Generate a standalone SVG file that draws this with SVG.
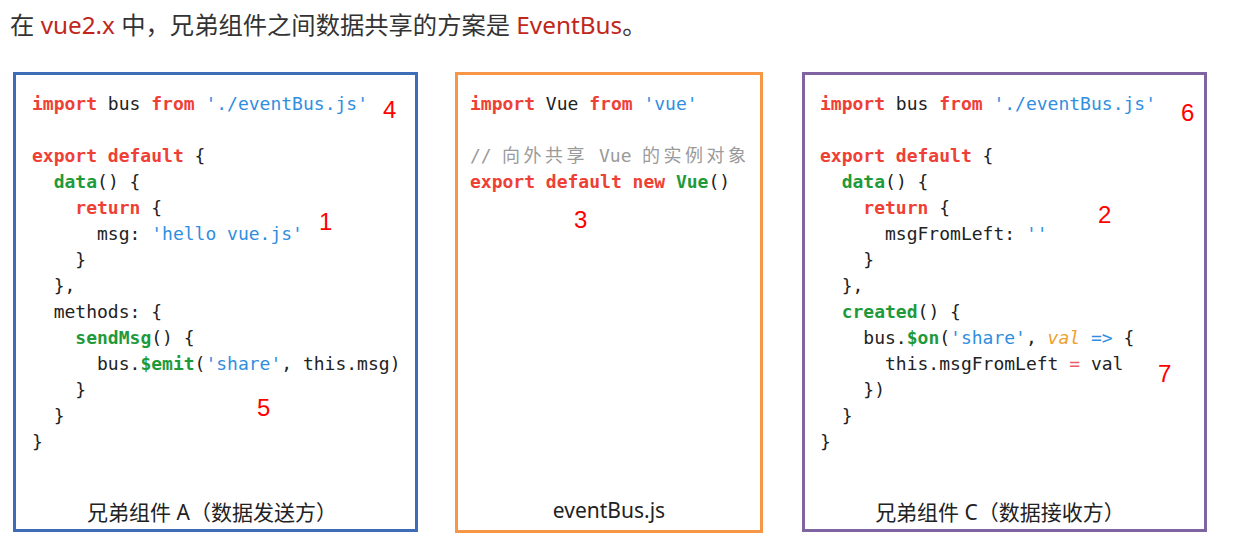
<svg xmlns="http://www.w3.org/2000/svg" width="1256" height="544" viewBox="0 0 1256 544">
<style>
.code{font-family:"DejaVu Sans Mono","Liberation Mono","Noto Sans CJK SC",monospace;font-size:18px;fill:#222}
.k{fill:#ee4035;font-weight:bold}
.op{fill:#ee5a6a}
.s{fill:#2f8ee0}
.f{fill:#1f9a3a;font-weight:bold}
.o{fill:#f0a030;font-style:italic}
.c{fill:#9a9a9a}
.cap{font-family:"Noto Sans","Noto Sans CJK SC",sans-serif;font-size:21px;fill:#222;text-anchor:middle}
.num{font-family:"Liberation Sans",Arial,sans-serif;font-size:24px;fill:#ff0000}
.title{font-family:"Noto Sans","Noto Sans CJK SC",sans-serif;font-size:24.3px;fill:#333}
.r{fill:#c0261c}
.box{fill:#fff;stroke-width:3}
</style>
<rect width="1256" height="544" fill="#fff"/>
<text class="title" x="10" y="34" xml:space="preserve">在 <tspan class="r">vue2.x</tspan> 中，兄弟组件之间数据共享的方案是 <tspan class="r">EventBus</tspan>。</text>
<g id="nodeA">
<rect class="box" x="14.5" y="73.5" width="402" height="457" stroke="#3d6db6"/>
<text class="code" x="32" y="110" xml:space="preserve"><tspan class="k">import</tspan> bus <tspan class="k">from</tspan> <tspan class="s">'./eventBus.js'</tspan></text>
<text class="code" x="32" y="162" xml:space="preserve"><tspan class="k">export default</tspan> {</text>
<text class="code" x="32" y="188" xml:space="preserve">  <tspan class="f">data</tspan>() {</text>
<text class="code" x="32" y="214" xml:space="preserve">    <tspan class="k">return</tspan> {</text>
<text class="code" x="32" y="240" xml:space="preserve">      msg: <tspan class="s">'hello vue.js'</tspan></text>
<text class="code" x="32" y="266" xml:space="preserve">    }</text>
<text class="code" x="32" y="292" xml:space="preserve">  },</text>
<text class="code" x="32" y="318" xml:space="preserve">  methods: {</text>
<text class="code" x="32" y="344" xml:space="preserve">    <tspan class="f">sendMsg</tspan>() {</text>
<text class="code" x="32" y="370" xml:space="preserve">      bus.<tspan class="f">$emit</tspan>(<tspan class="s">'share'</tspan>, this.msg)</text>
<text class="code" x="32" y="396" xml:space="preserve">    }</text>
<text class="code" x="32" y="422" xml:space="preserve">  }</text>
<text class="code" x="32" y="448" xml:space="preserve">}</text>
<text class="cap" x="212" y="520">兄弟组件 A（数据发送方）</text>
</g>
<g id="nodeBus">
<rect class="box" x="456.5" y="73.5" width="305" height="458" stroke="#f79646"/>
<text class="code" x="470" y="110" xml:space="preserve"><tspan class="k">import</tspan> Vue <tspan class="k">from</tspan> <tspan class="s">'vue'</tspan></text>
<text class="code c" y="162"><tspan x="470">//</tspan><tspan x="502" letter-spacing="3.5">向外共享</tspan><tspan x="599">Vue</tspan><tspan x="642" letter-spacing="3.5">的实例对象</tspan></text>
<text class="code" x="470" y="188" xml:space="preserve"><tspan class="k">export default new</tspan> <tspan class="f">Vue</tspan>()</text>
<text class="cap" x="609" y="518">eventBus.js</text>
</g>
<g id="nodeC">
<rect class="box" x="803.5" y="73.5" width="402" height="457" stroke="#8064a2"/>
<text class="code" x="820" y="110" xml:space="preserve"><tspan class="k">import</tspan> bus <tspan class="k">from</tspan> <tspan class="s">'./eventBus.js'</tspan></text>
<text class="code" x="820" y="162" xml:space="preserve"><tspan class="k">export default</tspan> {</text>
<text class="code" x="820" y="188" xml:space="preserve">  <tspan class="f">data</tspan>() {</text>
<text class="code" x="820" y="214" xml:space="preserve">    <tspan class="k">return</tspan> {</text>
<text class="code" x="820" y="240" xml:space="preserve">      msgFromLeft: <tspan class="s">''</tspan></text>
<text class="code" x="820" y="266" xml:space="preserve">    }</text>
<text class="code" x="820" y="292" xml:space="preserve">  },</text>
<text class="code" x="820" y="318" xml:space="preserve">  <tspan class="f">created</tspan>() {</text>
<text class="code" x="820" y="344" xml:space="preserve">    bus.<tspan class="f">$on</tspan>(<tspan class="s">'share'</tspan>, <tspan class="o">val</tspan> <tspan class="s">=&gt;</tspan> {</text>
<text class="code" x="820" y="370" xml:space="preserve">      this.msgFromLeft <tspan class="op">=</tspan> val</text>
<text class="code" x="820" y="396" xml:space="preserve">    })</text>
<text class="code" x="820" y="422" xml:space="preserve">  }</text>
<text class="code" x="820" y="448" xml:space="preserve">}</text>
<text class="cap" x="1000" y="520">兄弟组件 C（数据接收方）</text>
</g>
<g id="labels">
<text class="num" x="383" y="118">4</text>
<text class="num" x="319" y="230">1</text>
<text class="num" x="257" y="416">5</text>
<text class="num" x="574" y="228">3</text>
<text class="num" x="1181" y="121">6</text>
<text class="num" x="1098" y="223">2</text>
<text class="num" x="1158" y="382">7</text>
</g>
<g id="connectors"></g>
</svg>
